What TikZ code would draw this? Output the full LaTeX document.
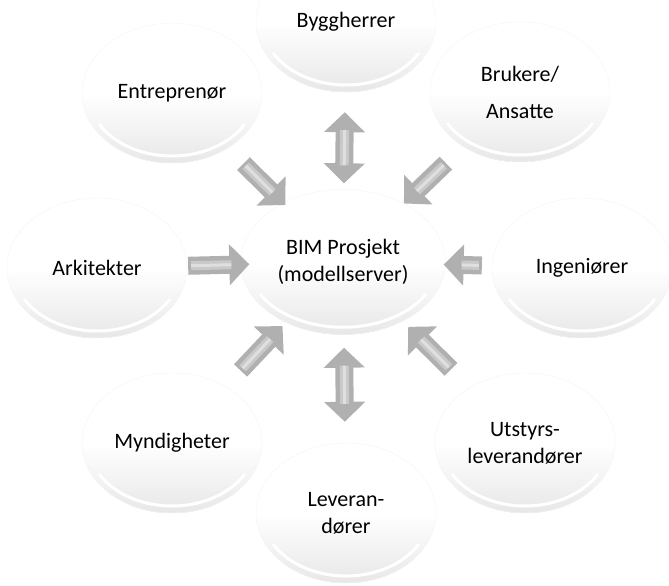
\documentclass[tikz,border=0pt]{standalone}
\usepackage{fontspec}
\setmainfont{Carlito}
\usetikzlibrary{shapes.geometric,arrows.meta,calc}

\begin{document}
\begin{tikzpicture}
    [x=1pt,y=-1pt,
     party/.style={shape=ellipse,minimum width=180pt,minimum height=140pt,inner sep=0pt,
       fill=white,draw=gray!8,align=center,font=\fontsize{22}{27}\selectfont,
       path picture={
         % light band getting darker towards the bottom
         \foreach \i in {1,...,18}
           \fill [gray!\i]
             ($(path picture bounding box.west)!\i/19!(path picture bounding box.south west)$)
             rectangle (path picture bounding box.south east);
         \draw [white,line width=3pt,line cap=round]
           let \p1=(path picture bounding box.north east),
               \p2=(path picture bounding box.center),
               \n1={0.93*(\x1-\x2)}, \n2={0.9*(\y1-\y2)} in
           ($(\p2)+(210:\n1 and \n2)$) arc [start angle=210,end angle=330,
             x radius=\n1,y radius=\n2];
       }},
     flow/.style 2 args={-{Triangle[length=20pt,width=40pt]},line width=18pt,draw=gray!62,
       shorten <=#1,shorten >=#2,
       postaction={draw=gray!42,line width=9pt,-,shorten <=#1+3pt,shorten >=#2+18pt},
       postaction={draw=gray!25,line width=3pt,-,shorten <=#1+3pt,shorten >=#2+18pt}},
     dflow/.style 2 args={{Triangle[length=20pt,width=40pt]}-{Triangle[length=20pt,width=40pt]},
       line width=18pt,draw=gray!62,shorten <=#1,shorten >=#2,
       postaction={draw=gray!42,line width=9pt,-,shorten <=#1+18pt,shorten >=#2+18pt},
       postaction={draw=gray!25,line width=3pt,-,shorten <=#1+18pt,shorten >=#2+18pt}}]
    \useasboundingbox (0,0) rectangle (669,586);
    \clip (0,0) rectangle (669,586);
    \node [party,minimum width=205pt,minimum height=145pt] (bim) at (343,262)
      {BIM Prosjekt\\(modellserver)};
    \node [party] (bygg) at (346,22) {Byggherrer}
      edge [dflow={20pt}{6pt}] (bim);
    \node [party] (entr) at (172,93) {Entreprenør}
      edge [flow={22pt}{-3pt}] (bim);
    \node [party] (bruk) at (520,92) {Brukere/\\[10pt]Ansatte}
      edge [flow={24pt}{0pt}] (bim);
    \node [party] (arki) at (97,268) {Arkitekter}
      edge [flow={1pt}{-9pt}] (bim);
    \node [party] (inge) at (582,268) {Ingeniører}
      edge [flow={10pt}{-2pt}] (bim);
    \node [party] (mynd) at (172,443) {Myndigheter}
      edge [flow={22pt}{5pt}] (bim);
    \node [party] (utst) at (525,443) {Utstyrs-\\leverandører}
      edge [flow={26pt}{8pt}] (bim);
    \node [party] (leve) at (346,513) {Leveran-\\dører}
      edge [dflow={21pt}{13pt}] (bim);
  \end{tikzpicture}
\end{document}
